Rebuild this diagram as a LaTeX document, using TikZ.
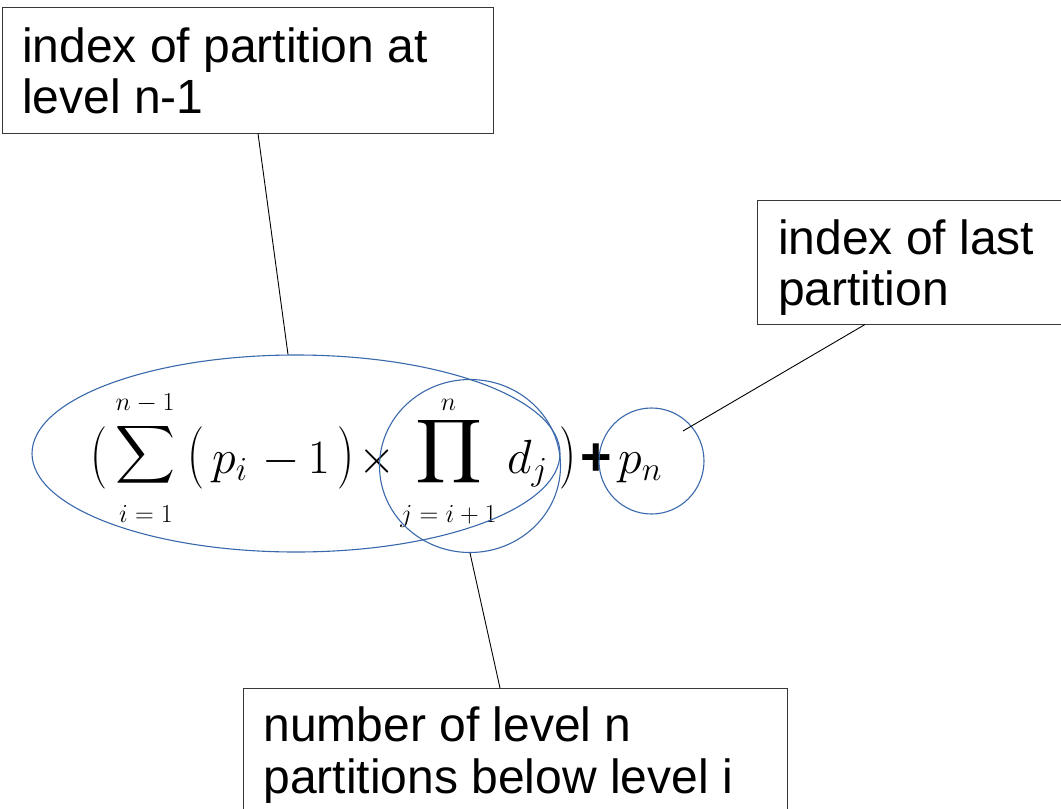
\documentclass[tikz,border=0pt]{standalone}
\usepackage{fix-cm}
\usepackage[no-math]{fontspec}
\setmainfont{Liberation Sans}
\usepackage{graphicx}
\usepackage{calc}
\usetikzlibrary{shapes.geometric,calc}
\definecolor{ringblue}{HTML}{3A68AC}
\newcommand{\centeredop}[3]{\raisebox{(\depth-\height)/2}[0pt][0pt]{\resizebox*{#1}{#2}{$\displaystyle#3$}}}
\tikzset{
  labelbox/.style={draw=black!78, line width=1pt, inner sep=0, fill=none},
  lbl/.style={inner sep=0, anchor=base west, font=\fontsize{48}{52}\selectfont},
  ring/.style={draw=ringblue, line width=1.1pt, ellipse, inner sep=0},
  conn/.style={draw=black, line width=0.9pt},
  mpart/.style={inner sep=0, anchor=base, font=\fontsize{48}{58}\selectfont},
  limpart/.style={inner sep=0, anchor=base, font=\fontsize{26}{30}\selectfont},
  bigop/.style={inner sep=0, anchor=base, font=\fontsize{48}{58}\selectfont}
}
\begin{document}
\begin{tikzpicture}[x=1pt,y=-1pt]
\useasboundingbox (0,0) rectangle (1061,809);
\clip (0,0) rectangle (1061,809);
\fill[white] (0,0) rectangle (1061,809);

% label boxes
\node[labelbox, minimum width=491pt, minimum height=126pt] (box1) at (247.5,70) {};
\node[labelbox, minimum width=323pt, minimum height=124pt] (box2) at (918.5,262) {};
\node[labelbox, minimum width=544pt, minimum height=171.5pt] (box3) at (515.5,774.25) {};

\node[lbl] (t1a) at (22,62) {index of partition at};
\node[lbl] (t1b) at (22,113.3) {level n-1};
\node[lbl] (t2a) at (778,254.3) {index of last};
\node[lbl] (t2b) at (778,305) {partition};
\node[lbl] (t3a) at (263.3,741.7) {number of level n};
\node[lbl] (t3b) at (263.3,793.3) {partitions below level i};

% formula
\node[mpart] (lp1) at (98.5,473) {\scalebox{1}[1.3]{$($}};
\node[bigop] (sum) at (145.5,463) {\centeredop{60pt}{81pt}{\sum}};
\node[limpart] (sumtop) at (145,410) {$n-1$};
\node[limpart] (sumbot) at (146,522) {$i=1$};
\node[mpart] (lp2) at (196,473) {\scalebox{1}[1.3]{$($}};
\node[mpart, anchor=base west] (pi) at (212,473) {$p_i$};
\node[mpart] (minus) at (281.5,473) {$-$};
\node[mpart] (one) at (319,473) {$1$};
\node[mpart] (rp1) at (346,473) {\scalebox{1}[1.3]{$)$}};
\node[mpart] (times) at (377.5,473) {$\times$};
\node[bigop] (prod) at (449.5,461) {\centeredop{67pt}{89pt}{\prod}};
\node[limpart] (prodtop) at (448.5,410) {$n$};
\node[limpart] (prodbot) at (448.5,522) {$j=i+1$};
\node[mpart, anchor=base west] (dj) at (507,473) {$d_j$};
\node[mpart] (rp2) at (567.5,473) {\scalebox{1}[1.3]{$)$}};
\node[mpart, font=\fontsize{54}{60}\selectfont\bfseries] (plus) at (596.5,475) {+};
\node[mpart, anchor=base west] (pn) at (618,473) {$p_n$};

% rings
\node[ring, minimum width=528pt, minimum height=197pt] (E1) at (296,453.5) {};
\node[ring, minimum width=181pt, minimum height=173pt] (E2) at (470,466) {};
\node[ring, minimum width=105pt, minimum height=106pt] (E3) at (651.5,461) {};

% connectors
\draw[conn] ($(box1.south)+(10.5,0)$) -- ($(E1.north)+(-8,0)$);
\draw[conn] ($(box2.south)+(-53.5,0)$) -- ($(E3.center)+(31.5,-30)$);
\draw[conn] (E2.south) -- ($(box3.north)+(-15.5,0)$);
\end{tikzpicture}
\end{document}
